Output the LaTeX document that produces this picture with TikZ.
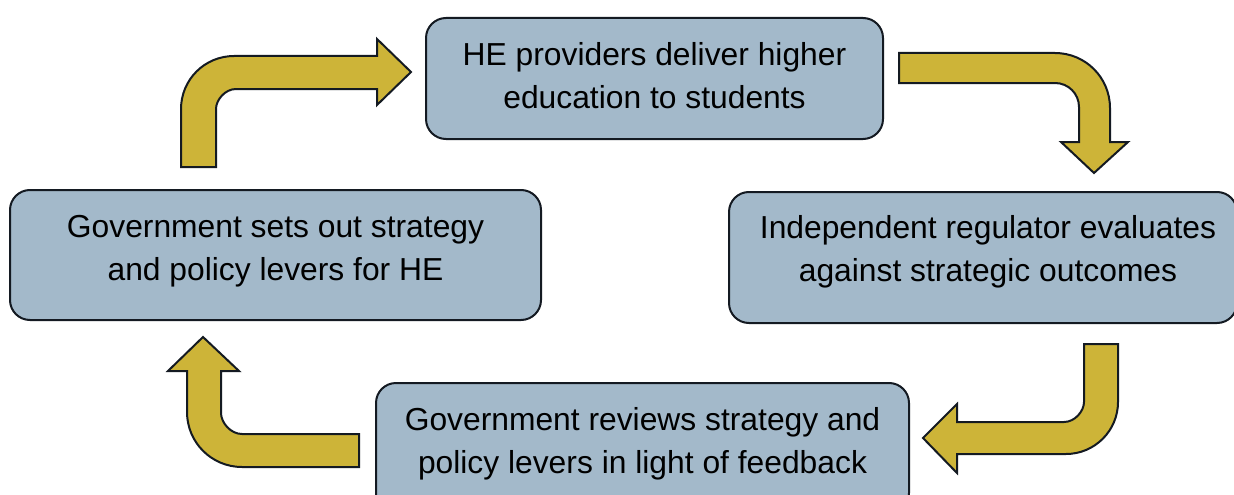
\documentclass[tikz,border=0pt]{standalone}
\usepackage{fontspec}
\setmainfont{Liberation Sans}
\definecolor{boxfill}{RGB}{163,185,202}
\definecolor{arrowfill}{RGB}{205,180,56}
\definecolor{edgecol}{RGB}{20,26,34}
\begin{document}
\begin{tikzpicture}[x=1pt,y=-1pt,
  box/.style={draw=edgecol, fill=boxfill, line width=2pt, rounded corners=20pt, inner sep=0pt},
  boxtext/.style={font=\fontsize{31.8}{43}\selectfont, align=center, anchor=base, text=black, inner sep=0pt},
  bigarrow/.style={draw=edgecol, fill=arrowfill, line width=2pt, line join=miter}]
\useasboundingbox (0,0) rectangle (1234,495);
\fill[white] (0,0) rectangle (1234,495);

% boxes
\node[box, minimum width=457pt, minimum height=121pt] (topbox) at (654.5,78.5) {};
\node[box, minimum width=531pt, minimum height=130pt] (leftbox) at (275.5,255) {};
\node[box, minimum width=508pt, minimum height=131pt] (rightbox) at (983,257.5) {};
\node[box, minimum width=533pt, minimum height=130pt] (bottombox) at (642.5,448) {};

% texts (anchor = baseline of the last line)
\node[boxtext] (toptext) at (654.5,108) {HE providers deliver higher\\education to students};
\node[boxtext] (lefttext) at (275.5,280) {Government sets out strategy\\and policy levers for HE};
\node[boxtext] (righttext) at (988,281) {Independent regulator evaluates\\against strategic outcomes};
\node[boxtext] (bottomtext) at (642.5,473) {Government reviews strategy and\\policy levers in light of feedback};

% arrow: left box -> top box
\draw[bigarrow] (181,167) -- (181,109) .. controls (181,79.7) and (204.7,56) .. (234,56)
  -- (377,56) -- (377,39) -- (411,72) -- (377,105) -- (377,89) -- (236,89)
  .. controls (225,89) and (216,100) .. (216,109) -- (216,167) -- cycle;

% arrow: top box -> right box
\draw[bigarrow] (899,53) -- (1055,53) .. controls (1085.4,53) and (1110,77.6) .. (1110,108)
  -- (1110,142) -- (1128,142) -- (1094,173) -- (1061,142) -- (1079,142) -- (1079,107)
  .. controls (1079,93.7) and (1068.3,83) .. (1055,83) -- (899,83) -- cycle;

% arrow: right box -> bottom box
\draw[bigarrow] (1084,344) -- (1118,344) -- (1118,402) .. controls (1118,430.7) and (1094.7,454) .. (1066,454)
  -- (957,454) -- (957,473) -- (923,438) -- (957,404) -- (957,422) -- (1064,422)
  .. controls (1075,422) and (1084,411) .. (1084,402) -- cycle;

% arrow: bottom box -> left box
\draw[bigarrow] (359,434) -- (242,434) .. controls (230.4,434) and (221,422.4) .. (221,413)
  -- (221,371) -- (239,371) -- (203,337) -- (168,371) -- (187,371) -- (187,412)
  .. controls (187,442.4) and (211.6,467) .. (242,467) -- (359,467) -- cycle;
\end{tikzpicture}
\end{document}
